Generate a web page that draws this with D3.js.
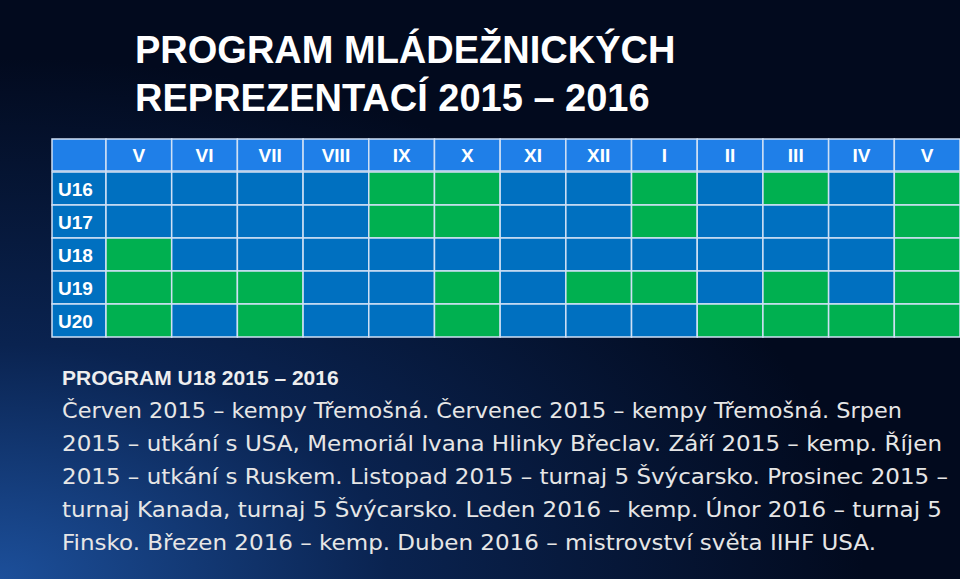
<!DOCTYPE html>
<html>
<head>
<meta charset="UTF-8">
<script src="https://d3js.org/d3.v7.min.js"></script>
<style>
  body { margin: 0; background: #020a1e; }
  svg { display: block; }
</style>
</head>
<body>
<script>
var months = ["V","VI","VII","VIII","IX","X","XI","XII","I","II","III","IV","V"];
var teams = ["U16","U17","U18","U19","U20"];
// 1 = green (akce), 0 = blue
var U16 = [0,0,0,0,1,1,0,0,1,0,1,0,1];
var U17 = [0,0,0,0,1,1,0,0,1,0,0,0,1];
var U18 = [1,0,0,0,0,0,0,0,0,0,0,0,1];
var U19 = [1,1,1,0,0,1,0,1,1,0,1,0,1];
var U20 = [1,0,1,0,0,1,0,0,0,1,1,1,1];
var rowsData = [U16, U17, U18, U19, U20];
var textLines = [
  "Červen 2015 – kempy Třemošná. Červenec 2015 – kempy Třemošná. Srpen",
  "2015 – utkání s USA, Memoriál Ivana Hlinky Břeclav. Září 2015 – kemp. Říjen",
  "2015 – utkání s Ruskem. Listopad 2015 – turnaj 5 Švýcarsko. Prosinec 2015 –",
  "turnaj Kanada, turnaj 5 Švýcarsko. Leden 2016 – kemp. Únor 2016 – turnaj 5",
  "Finsko. Březen 2016 – kemp. Duben 2016 – mistrovství světa IIHF USA."
];

var W = 960, H = 579;
var svg = d3.select("body").append("svg").attr("width", W).attr("height", H);

var defs = svg.append("defs");
var rg = defs.append("radialGradient").attr("id","bg").attr("cx","0%").attr("cy","100%").attr("r","90%");
rg.append("stop").attr("offset","0%").attr("stop-color","#1c4f9a");
rg.append("stop").attr("offset","45%").attr("stop-color","#0a2350");
rg.append("stop").attr("offset","100%").attr("stop-color","#020a1e");
svg.append("rect").attr("width",W).attr("height",H).attr("fill","url(#bg)");

svg.append("text").attr("x",135).attr("y",63).text("PROGRAM MLÁDEŽNICKÝCH")
  .attr("fill","#fff").attr("font-family","Liberation Sans, Arial").attr("font-weight","bold").attr("font-size",38);
svg.append("text").attr("x",135).attr("y",111).text("REPREZENTACÍ 2015 – 2016")
  .attr("fill","#fff").attr("font-family","Liberation Sans, Arial").attr("font-weight","bold").attr("font-size",38);

var labelW = 54, left = 52, right = 960;
var x = d3.scaleBand().domain(d3.range(months.length)).range([left + labelW, right]);
var y = d3.scaleBand().domain(d3.range(teams.length)).range([172, 337]);
var headTop = 139, headH = 32;

var g = svg.append("g");
// header row
g.append("rect").attr("x",left).attr("y",headTop).attr("width",labelW).attr("height",headH).attr("fill","#1f7fe8").attr("stroke","#cfe0f5").attr("stroke-width",1.5);
g.selectAll(".hd").data(months).enter().append("rect")
  .attr("x",function(d,i){ return x(i); }).attr("y",headTop)
  .attr("width",x.bandwidth()).attr("height",headH)
  .attr("fill","#1f7fe8").attr("stroke","#cfe0f5").attr("stroke-width",1.5);
g.selectAll(".ht").data(months).enter().append("text")
  .attr("x",function(d,i){ return x(i) + x.bandwidth()/2; }).attr("y",headTop + 23)
  .attr("text-anchor","middle").text(function(d){ return d; })
  .attr("fill","#fff").attr("font-family","Liberation Sans Narrow, Liberation Sans").attr("font-weight","bold").attr("font-size",19);

// body
teams.forEach(function(t, r){
  g.append("rect").attr("x",left).attr("y",y(r)).attr("width",labelW).attr("height",y.bandwidth())
    .attr("fill","#0070c0").attr("stroke","#cfe0f5").attr("stroke-width",1.5);
  g.append("text").attr("x",left + 6).attr("y",y(r) + y.bandwidth()/2 + 7).text(t)
    .attr("fill","#fff").attr("font-family","Liberation Sans Narrow, Liberation Sans").attr("font-weight","bold").attr("font-size",19);
  g.selectAll(".c" + r).data(rowsData[r]).enter().append("rect")
    .attr("x",function(d,i){ return x(i); }).attr("y",y(r))
    .attr("width",x.bandwidth()).attr("height",y.bandwidth())
    .attr("fill",function(d){ return d ? "#00b050" : "#0070c0"; })
    .attr("stroke","#cfe0f5").attr("stroke-width",1.5);
});

svg.append("text").attr("x",62).attr("y",385).text("PROGRAM U18 2015 – 2016")
  .attr("fill","#eeeeee").attr("font-family","Liberation Sans, Arial").attr("font-weight","bold").attr("font-size",21);
svg.selectAll(".ln").data(textLines).enter().append("text")
  .attr("x",62).attr("y",function(d,i){ return 418 + i*33; })
  .text(function(d){ return d; })
  .attr("fill","#e6e6e6").attr("font-family","DejaVu Sans, Verdana").attr("font-size",20.5)
  .attr("textLength", function(d,i){ return [840,880,886,880,814][i]; }).attr("lengthAdjust","spacingAndGlyphs");
</script>
</body>
</html>
